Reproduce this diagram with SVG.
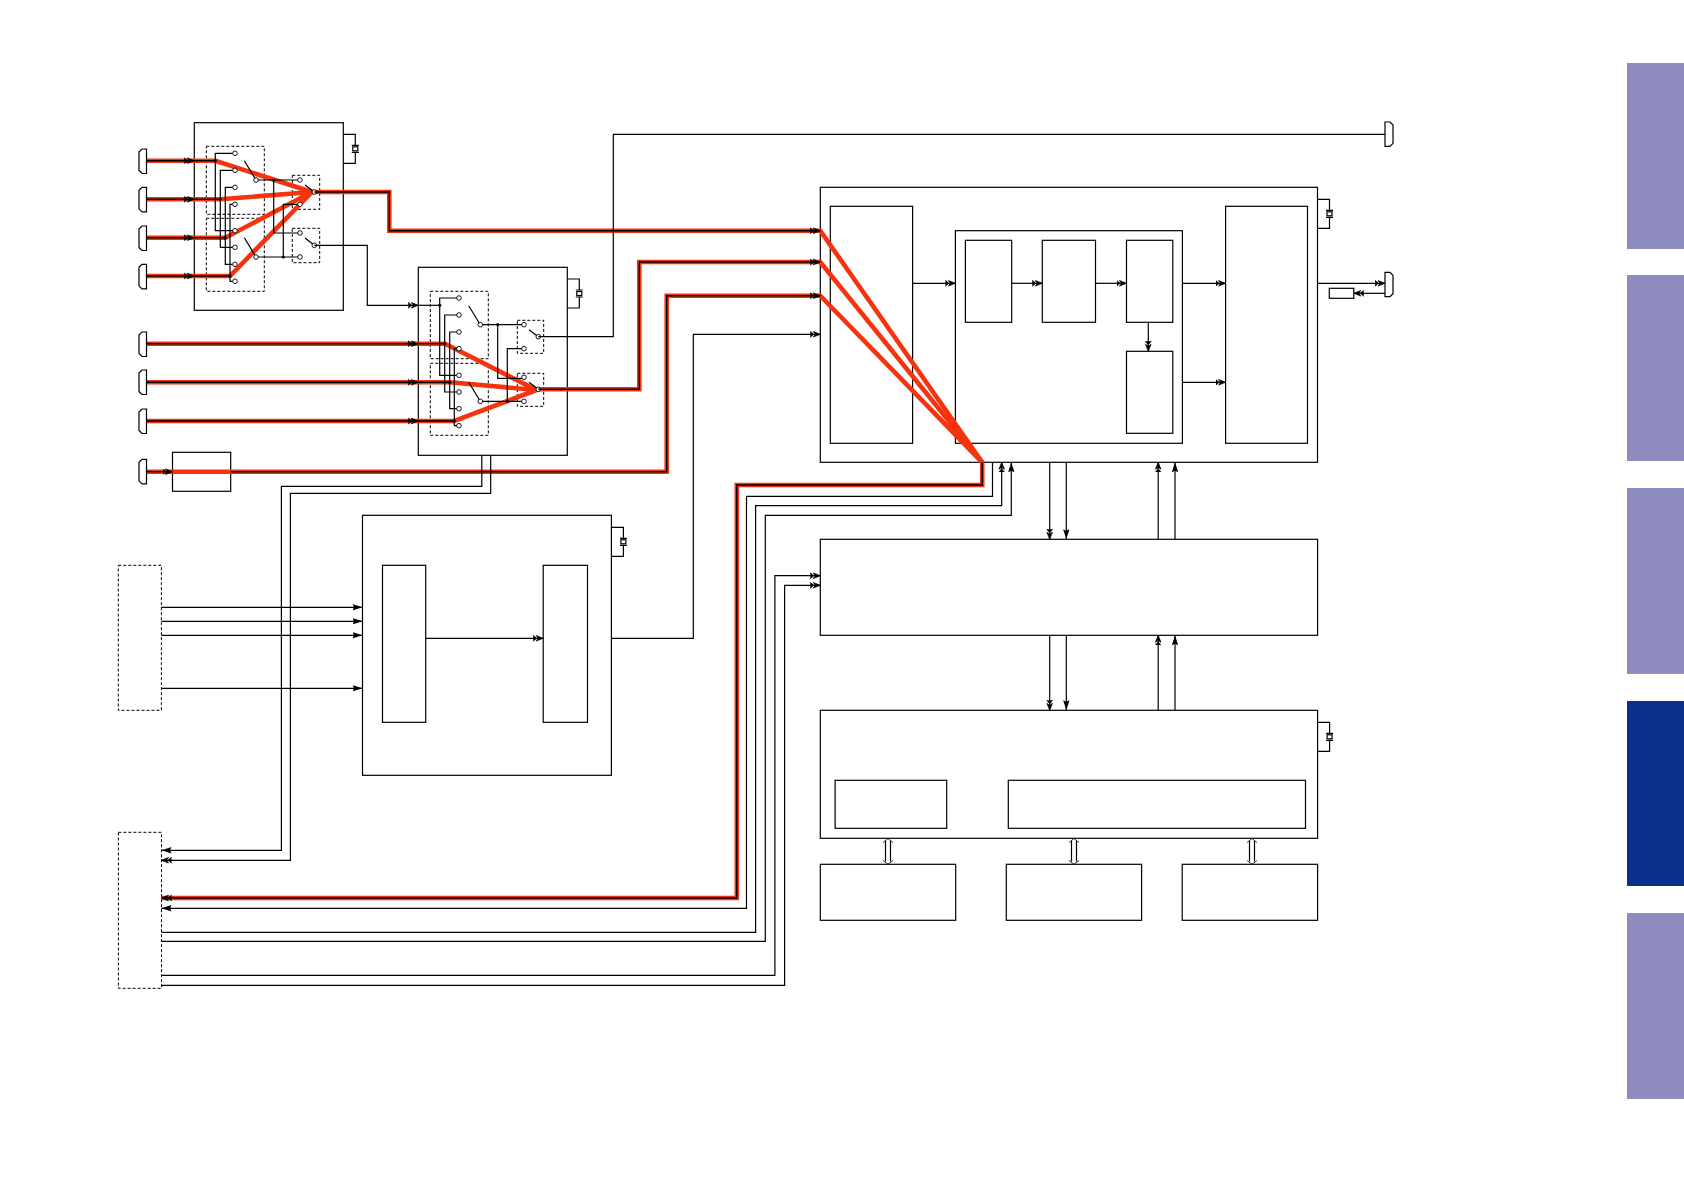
<svg xmlns="http://www.w3.org/2000/svg" width="1684" height="1191" viewBox="0 0 1684 1191">
<style>
.b{fill:#fff;stroke:#000;stroke-width:1.2}
.n{fill:none;stroke:#000;stroke-width:1.2}
.d{fill:none;stroke:#000;stroke-width:1;stroke-dasharray:3 2}
.l{fill:none;stroke:#000;stroke-width:1.2}
.t{fill:none;stroke:#000;stroke-width:1.4}
.r{fill:none;stroke:#f5330f;stroke-width:4.6;stroke-linejoin:miter}
.c{fill:#fff;stroke:#000;stroke-width:.9}
.w{fill:none;stroke:#000;stroke-width:1.2}
.tab{fill:#8f8cc0}
.a2{marker-end:url(#dbl)}
.a1{marker-end:url(#sol)}
.dj{fill:#000}
</style>
<defs>
<marker id="dbl" markerUnits="userSpaceOnUse" markerWidth="11" markerHeight="8" refX="10" refY="4" orient="auto">
<path d="M0 1L3.500 4L0 7M3 1.200L10 4L3 6.800L5 4Z" fill="#000" stroke="#000" stroke-width=".7"/>
</marker>
<marker id="sol" markerUnits="userSpaceOnUse" markerWidth="11" markerHeight="8" refX="10" refY="4" orient="auto">
<path d="M0 .8L10 4L0 7.200L1.500 4Z" fill="#000"/>
</marker>
<g id="xtal"><path class="w" d="M0 0H12V11M12 18V29H0M8.500 11H15.500M8.500 18H15.500"/><rect class="w" x="9.500" y="12.500" width="5" height="4" fill="#fff"/></g>
<path id="plugL" class="b" style="fill:#fff" d="M146.500 0H142L139 3V21.500L142 24.500H146.500Z"/>
</defs>

<g id="tabs">
<rect class="tab" x="1627" y="63" width="57" height="186"/>
<rect class="tab" x="1627" y="275" width="57" height="186"/>
<rect class="tab" x="1627" y="488" width="57" height="186"/>
<rect x="1627" y="701" width="57" height="185" fill="#0b318f"/>
<rect class="tab" x="1627" y="913" width="57" height="186"/>
</g>

<g id="node-box1"><rect class="b" x="194.300" y="122.700" width="149" height="187.600"/><use href="#xtal" x="343.300" y="134.300"/>
<rect class="d" x="206.300" y="146.300" width="58" height="68"/><rect class="d" x="206.300" y="218.300" width="58" height="73"/>
<rect class="d" x="292.300" y="175.300" width="27.400" height="34"/><rect class="d" x="292.300" y="228.300" width="27.400" height="34.400"/></g>
<g id="node-box2"><rect class="b" x="418.300" y="267.300" width="149" height="188"/><use href="#xtal" x="567.300" y="279"/>
<rect class="d" x="430.300" y="291.300" width="58" height="67.400"/><rect class="d" x="430.300" y="363.300" width="58" height="72"/>
<rect class="d" x="517.300" y="320.300" width="26.400" height="33"/><rect class="d" x="517.300" y="373.300" width="26.400" height="33"/></g>
<g id="node-box3"><rect class="b" x="362.500" y="515.300" width="248.900" height="260"/><use href="#xtal" x="611.400" y="527.300"/>
<rect class="b" x="382.500" y="565.300" width="43.200" height="157"/><rect class="b" x="543.200" y="565.300" width="44.300" height="157"/></g>
<g id="node-src"><rect class="d" style="fill:#fff" x="118.300" y="565.300" width="43.100" height="145"/></g>
<g id="node-sink"><rect class="d" style="fill:#fff" x="118.400" y="832.300" width="43.100" height="156"/></g>
<g id="node-small"><rect class="b" x="172.500" y="452.300" width="58.200" height="39"/></g>
<g id="node-main"><rect class="b" x="820.300" y="187.300" width="497.200" height="275"/><use href="#xtal" x="1317.500" y="199.300"/>
<rect class="b" x="830.300" y="206.300" width="82.300" height="237"/>
<rect class="b" x="955.400" y="230.700" width="227" height="212.600"/>
<rect class="b" x="965.400" y="240.300" width="46.300" height="82"/>
<rect class="b" x="1042.300" y="240.300" width="53.200" height="82"/>
<rect class="b" x="1126.500" y="240.300" width="46.300" height="82"/>
<rect class="b" x="1126.500" y="351.300" width="46.300" height="82"/>
<rect class="b" x="1225.600" y="206.300" width="81.900" height="237"/></g>
<g id="node-mid"><rect class="b" x="820.300" y="539.300" width="497.300" height="96"/></g>
<g id="node-low"><rect class="b" x="820.300" y="710.300" width="497.300" height="128"/><use href="#xtal" x="1317.600" y="722.300"/>
<rect class="b" x="835.100" y="780.300" width="111.600" height="48"/><rect class="b" x="1008.300" y="780.300" width="297.200" height="48"/></g>
<g id="node-m1"><rect class="b" x="820.300" y="864.300" width="135.400" height="56"/></g>
<g id="node-m2"><rect class="b" x="1006.300" y="864.300" width="135.300" height="56"/></g>
<g id="node-m3"><rect class="b" x="1182.200" y="864.300" width="135.400" height="56"/></g>
<g id="node-r1"><rect class="b" x="1329.300" y="288.300" width="24.500" height="10"/></g>

<g id="connectors">
<path class="r" d="M146 160.700H215.300L312 192M146 199.300H220.300L312 192M146 237.700H225.300L312 192M146 276H230L312 192"/>
<path class="r" d="M312 192H389.300V230.700H820.300L982.200 462.300M146 343.700H445L536.500 390M146 382.300H449.700L536.500 390M146 421H454.300L536.500 390"/>
<path class="r" d="M536.500 389.300H639.300V262H820.300L982.200 462.300M146 471.700H666.700V295.700H820.300L982.200 462.300V485H736.800V898H161.500"/>

<path class="w" d="M235 153.300H215.300V230.700H235M235 170.300H220.300V247.300H235M235 187.300H225.300V264.300H235M235 204.300H230V281.300H235"/>
<path class="w" d="M244.300 160.700L256 180M244.300 237.700L256 257M256 180H300M273.700 180V233H300M256 257H300M283.300 257V204.300H300M314.300 192L305 185M314.300 245.300L305 238"/>
<g class="dj"><circle cx="215.300" cy="160.700" r="1.600"/><circle cx="220.300" cy="199.300" r="1.600"/><circle cx="225.300" cy="237.700" r="1.600"/><circle cx="230" cy="276" r="1.600"/><circle cx="273.700" cy="180" r="1.600"/><circle cx="283.300" cy="257" r="1.600"/></g>
<g class="c"><circle cx="235" cy="153.300" r="2.300"/><circle cx="235" cy="170.300" r="2.300"/><circle cx="235" cy="187.300" r="2.300"/><circle cx="235" cy="204.300" r="2.300"/><circle cx="235" cy="230.700" r="2.300"/><circle cx="235" cy="247.300" r="2.300"/><circle cx="235" cy="264.300" r="2.300"/><circle cx="235" cy="281.300" r="2.300"/><circle cx="256" cy="180" r="2.300"/><circle cx="256" cy="257" r="2.300"/><circle cx="300" cy="180" r="2.300"/><circle cx="300" cy="204.300" r="2.300"/><circle cx="300" cy="233" r="2.300"/><circle cx="300" cy="257" r="2.300"/><circle cx="314.300" cy="192" r="2.300"/><circle cx="314.300" cy="245.300" r="2.300"/></g>

<path class="w" d="M459 298H439.700V375.300H459M459 315H444.700V392H459M459 332H449.700V408.700H459M459 348.700H454.300V425.700H459"/>
<path class="w" d="M468.700 305.700L480.300 324.700M468.700 382.300L480.300 401.300M480.300 324.700H524M497.700 324.700V378.300H524M480.300 401.300H524M507.300 401.300V348.700H524M538.300 336.700L529 329.700M538.300 389.300L529 382.300"/>
<g class="dj"><circle cx="439.700" cy="305.300" r="1.600"/><circle cx="444.700" cy="343.700" r="1.600"/><circle cx="449.700" cy="382.300" r="1.600"/><circle cx="454.300" cy="421" r="1.600"/><circle cx="497.700" cy="324.700" r="1.600"/><circle cx="507.300" cy="401.300" r="1.600"/></g>
<g class="c"><circle cx="459" cy="298" r="2.300"/><circle cx="459" cy="315" r="2.300"/><circle cx="459" cy="332" r="2.300"/><circle cx="459" cy="348.700" r="2.300"/><circle cx="459" cy="375.300" r="2.300"/><circle cx="459" cy="392" r="2.300"/><circle cx="459" cy="408.700" r="2.300"/><circle cx="459" cy="425.700" r="2.300"/><circle cx="480.300" cy="324.700" r="2.300"/><circle cx="480.300" cy="401.300" r="2.300"/><circle cx="524" cy="324.700" r="2.300"/><circle cx="524" cy="348.700" r="2.300"/><circle cx="524" cy="377.300" r="2.300"/><circle cx="524" cy="401.300" r="2.300"/><circle cx="538.300" cy="336.700" r="2.300"/><circle cx="538.300" cy="389.300" r="2.300"/></g>

<path class="t a2" d="M146 160.700H194.300"/><path class="t" d="M194 160.700H215.300"/>
<path class="t a2" d="M146 199.300H194.300"/><path class="t" d="M194 199.300H220.300"/>
<path class="t a2" d="M146 237.700H194.300"/><path class="t" d="M194 237.700H225.300"/>
<path class="t a2" d="M146 276H194.300"/><path class="t" d="M194 276H230"/>
<path class="t a2" d="M146 343.700H418.300"/><path class="t" d="M418 343.700H444.700"/>
<path class="t a2" d="M146 382.300H418.300"/><path class="t" d="M418 382.300H449.700"/>
<path class="t a2" d="M146 421H418.300"/><path class="t" d="M418 421H454.300"/>
<path class="t a2" d="M146 471.700H172.500"/><path class="t" d="M230.700 471.700H666.700V295.700H820.300"/>
<path class="t" d="M314.300 192H389.300V230.700H820.300"/><path class="a2" d="M800 230.700H820.300" fill="none"/>
<path class="t" d="M538.300 389.300H639.300V262H820.300"/>
<path class="a2" d="M800 262H820.300" fill="none"/><path class="a2" d="M800 295.700H820.300" fill="none"/>
<path class="t" d="M982.200 462.300V485H736.800V898H161.500"/><path class="a2" d="M180 898H161.500" fill="none"/>

<path class="l a2" d="M314.300 245.300H367.300V305.300H418.300"/><path class="l" d="M418 305.300H439.700"/>
<path class="l" d="M538.300 336.700H613.300V134.300H1385"/>
<path class="l a2" d="M611.400 638.300H693.300V334.300H820.300"/>
<path class="l a1" d="M161.400 607.300H362.500"/><path class="l a1" d="M161.400 621.300H362.500"/><path class="l a1" d="M161.400 635.300H362.500"/><path class="l a1" d="M161.400 688.300H362.500"/>
<path class="l a2" d="M425.700 638.300H543.200"/>
<path class="l a1" d="M481.800 455.300V486.300H281.400V850.300H161.500"/>
<path class="l a2" d="M490.700 455.300V493.300H290.400V860.300H161.500"/>
<path class="l a1" d="M992.500 462.300V496.300H746.500V908.300H161.500"/>
<path class="l a2" d="M161.500 932.300H755.600V505.700H1001.700V462.300"/>
<path class="l a1" d="M161.500 941.300H765.300V515.300H1011.300V462.300"/>
<path class="l a2" d="M161.500 975.300H774.900V575.700H820.300"/>
<path class="l a2" d="M161.500 985.300H784.600V585.300H820.300"/>
<path class="l a2" d="M912.600 283.300H955.400"/>
<path class="l a2" d="M1011.700 283.300H1042.300"/>
<path class="l a2" d="M1095.500 283.300H1126.500"/>
<path class="l a2" d="M1148.300 322.300V351.300"/>
<path class="l a2" d="M1182.400 283.300H1225.600"/>
<path class="l a2" d="M1182.400 382.300H1225.600"/>
<path class="l a2" d="M1317.500 283.300H1385"/>
<path class="l a2" d="M1385 293.300H1353.800"/>
<path class="l a2" d="M1049.700 462.300V539.300"/><path class="l a1" d="M1066.300 462.300V539.300"/>
<path class="l a2" d="M1158.200 539.300V462.300"/><path class="l a1" d="M1175 539.300V462.300"/>
<path class="l a2" d="M1049.700 635.300V710.300"/><path class="l a1" d="M1066.300 635.300V710.300"/>
<path class="l a2" d="M1158.200 710.300V635.300"/><path class="l a1" d="M1175 710.300V635.300"/>
<path class="w" d="M885.500 841V861.500M890.500 841V861.500M1071.500 841V861.500M1076.500 841V861.500M1249.500 841V861.500M1254.500 841V861.500"/>
<path class="w" style="stroke-width:.8" d="M883 842.500L888 838.500L893 842.500M883 860.500L888 864.300L893 860.500M1069 842.500L1074 838.500L1079 842.500M1069 860.500L1074 864.300L1079 860.500M1247 842.500L1252 838.500L1257 842.500M1247 860.500L1252 864.300L1257 860.500"/>
</g>

<g id="node-plugs">
<use href="#plugL" y="149"/><use href="#plugL" y="187.300"/><use href="#plugL" y="226"/><use href="#plugL" y="264.300"/>
<use href="#plugL" y="332"/><use href="#plugL" y="370"/><use href="#plugL" y="409"/><use href="#plugL" y="459.300"/>
<path class="b" d="M1385 122H1390L1393 125V143.300L1390 146.300H1385Z"/>
<path class="b" d="M1385 272.300H1390L1393 275.300V293.700L1390 296.700H1385Z"/>
</g>
</svg>
